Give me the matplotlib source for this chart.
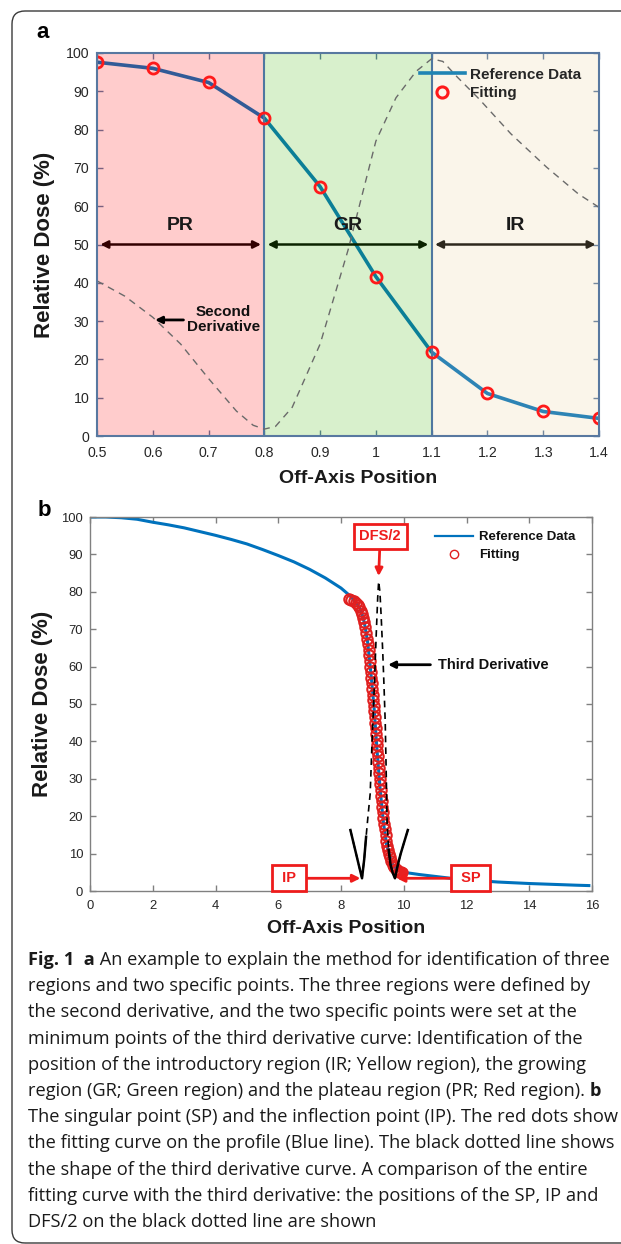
import matplotlib
matplotlib.use('Agg')
import matplotlib.pyplot as plt
from matplotlib.lines import Line2D
from matplotlib.patches import FancyBboxPatch
from matplotlib.transforms import IdentityTransform

plt.rcParams['font.family'] = ['Liberation Sans', 'DejaVu Sans']

# ---- panel a data ----
off_axis_a = [0.5, 0.6, 0.7, 0.8, 0.9, 1.0, 1.1, 1.2, 1.3, 1.4]
dose_a = [97.6, 96.0, 92.3, 83.0, 65.1, 41.6, 21.9, 11.1, 6.4, 4.6]
second_x = [0.5, 0.55, 0.6, 0.65, 0.7, 0.75, 0.78, 0.8, 0.82, 0.85, 0.9, 0.95,
            1.0, 1.036, 1.072, 1.1, 1.12, 1.146, 1.185, 1.242, 1.306, 1.363, 1.4]
second_y = [40.5, 36.5, 31.0, 24.0, 15.0, 6.5, 2.8, 1.8, 2.5, 7.5, 24.0, 48.5,
            77.0, 88.3, 95.2, 98.5, 97.8, 93.7, 88.0, 78.9, 70.2, 63.2, 59.7]
region_edges = [0.5, 0.8, 1.1, 1.4]
region_names = ['PR', 'GR', 'IR']
region_colors = ['#ff0000', '#3cb400', '#e6cd96']

# ---- panel b data ----
ref_x = [0, 0.5, 1.0, 1.5, 2.0, 2.5, 3.0, 3.5, 4.0, 4.5, 5.0, 5.5, 6.0, 6.5, 7.0,
         7.5, 8.0, 8.25, 8.5, 8.65, 8.75, 8.85, 8.95, 9.05, 9.15, 9.25, 9.35,
         9.45, 9.55, 9.65, 9.8, 10.0, 10.5, 11.0, 11.5, 12.0, 12.5, 13.0, 13.5,
         14.0, 14.5, 15.0, 15.5, 15.9]
ref_y = [100, 100, 99.8, 99.4, 98.6, 97.9, 97.1, 96.1, 95.1, 94.0, 92.8, 91.3,
         89.7, 88.0, 86.0, 83.7, 81.0, 79.2, 77.0, 74.8, 71.5, 66.5, 58.5, 49.5,
         37.5, 27.0, 18.5, 12.5, 9.5, 7.0, 5.6, 5.0, 4.4, 3.9, 3.4, 3.0, 2.7, 2.4,
         2.2, 2.0, 1.85, 1.7, 1.55, 1.45]
fit_x = [8.25, 8.32, 8.40, 8.48, 8.53, 8.58, 8.64, 8.68, 8.71, 8.74, 8.78, 8.81,
         8.84, 8.86, 8.88, 8.90, 8.92, 8.935, 8.95, 8.97, 8.985, 9.00, 9.015, 9.03,
         9.045, 9.06, 9.075, 9.09, 9.105, 9.12, 9.133, 9.146, 9.16, 9.173, 9.186,
         9.20, 9.215, 9.23, 9.245, 9.26, 9.276, 9.293, 9.31, 9.33, 9.35, 9.37,
         9.393, 9.42, 9.45, 9.48, 9.505, 9.53, 9.565, 9.60, 9.65, 9.70, 9.75,
         9.79, 9.85, 9.92]
fit_y = [78.0, 77.8, 77.5, 77.0, 76.5, 76.0, 75.0, 74.0, 73.0, 72.0, 70.5, 69.0,
         67.5, 66.0, 64.5, 63.0, 61.5, 60.0, 58.5, 57.0, 55.5, 54.0, 52.5, 51.0,
         49.5, 48.0, 46.5, 45.0, 43.5, 42.0, 40.5, 39.0, 37.5, 36.0, 34.5, 33.0,
         31.5, 30.0, 28.5, 27.0, 25.5, 24.0, 22.5, 21.0, 19.5, 18.0, 16.5, 15.0,
         13.5, 12.0, 11.0, 10.0, 9.0, 8.0, 7.0, 6.3, 5.8, 5.5, 5.2, 5.0]
third_x = [8.30, 8.40, 8.50, 8.60, 8.67, 8.74, 8.80, 8.86, 8.93, 8.99, 9.05, 9.12,
           9.17, 9.20, 9.24, 9.28, 9.33, 9.37, 9.41, 9.44, 9.47, 9.52, 9.58, 9.65,
           9.72, 9.80, 9.90, 10.00, 10.13]
third_y = [16.3, 12.8, 9.3, 5.8, 3.4, 8.5, 14.5, 20.0, 26.0, 40.0, 52.0, 68.0,
           78.5, 82.8, 80.0, 73.5, 64.0, 55.0, 45.0, 32.0, 18.0, 11.0, 7.0, 4.8,
           3.4, 6.6, 9.9, 12.7, 16.3]
sp_x, sp_y = 9.97, 5.2

caption_first = ('Fig. 1  a', ' An example to explain the method for identification of three')
caption = [
    "regions and two specific points. The three regions were defined by",
    "the second derivative, and the two specific points were set at the",
    "minimum points of the third derivative curve: Identification of the",
    "position of the introductory region (IR; Yellow region), the growing",
    "region (GR; Green region) and the plateau region (PR; Red region). ",
    "The singular point (SP) and the inflection point (IP). The red dots show",
    "the fitting curve on the profile (Blue line). The black dotted line shows",
    "the shape of the third derivative curve. A comparison of the entire",
    "fitting curve with the third derivative: the positions of the SP, IP and",
    "DFS/2 on the black dotted line are shown",
]

W, H = 621, 1244
fig = plt.figure(figsize=(W / 100, H / 100), dpi=100)


def px_axes(l, t, r, b):
    return fig.add_axes([l / W, 1 - b / H, (r - l) / W, (b - t) / H])


TXT = '#262626'

# ================= panel a =================
ax = px_axes(97, 53, 599, 436)
ax.plot(off_axis_a, dose_a, color='#0072BD', lw=2.6, zorder=2)
for i, name in enumerate(region_names):
    x0, x1 = region_edges[i], region_edges[i + 1]
    ax.annotate('', xy=(x1 - 0.006, 50), xytext=(x0 + 0.006, 50), zorder=2.5,
                arrowprops=dict(arrowstyle='<|-|>', color='black', lw=1.8,
                                mutation_scale=11, shrinkA=0, shrinkB=0))
    ax.axvspan(x0, x1, color=region_colors[i], alpha=0.2, lw=0, zorder=3)
    ax.text((x0 + x1) / 2, 55, name, ha='center', va='center', fontsize=14,
            fontweight='bold', color='#1a1a1a', zorder=6)
for xe in region_edges[1:-1]:
    ax.axvline(xe, color='#4f77a0', lw=1.5, zorder=4)
ax.plot(second_x, second_y, ls=(0, (5, 4)), color='#6a6a6a', lw=1, zorder=4)
ax.plot(off_axis_a, dose_a, 'o', mfc='none', mec='#ff1a1a', ms=8, mew=2,
        zorder=5)
ax.text(0.727, 30.4, 'Second\nDerivative', ha='center', va='center',
        fontsize=11, fontweight='bold', linespacing=1.1, color='#111', zorder=6)
ax.annotate('', xy=(0.604, 30.3), xytext=(0.655, 30.3), zorder=6,
            arrowprops=dict(arrowstyle='-|>', color='black', lw=2,
                            mutation_scale=10, shrinkA=0, shrinkB=0))
ax.set_xlim(0.5, 1.4)
ax.set_ylim(0, 100)
ax.set_xticks(off_axis_a)
ax.set_xticklabels(['0.5', '0.6', '0.7', '0.8', '0.9', '1', '1.1', '1.2',
                    '1.3', '1.4'])
ax.set_yticks(range(0, 101, 10))
for s in ax.spines.values():
    s.set_color('#5878a0')
    s.set_linewidth(1.5)
    s.set_zorder(7)
ax.tick_params(direction='in', top=True, right=True, length=4, width=1,
               color='#5878a0', labelcolor=TXT, labelsize=10.2)
ax.tick_params(axis='x', pad=7)
ax.tick_params(axis='y', pad=5.5)
ax.set_xlabel('Off-Axis Position', fontsize=14, fontweight='bold', color='#1a1a1a')
ax.set_ylabel('Relative Dose (%)', fontsize=16, fontweight='bold', color='#1a1a1a')
ax.xaxis.set_label_coords(0.52, -0.089)
ax.yaxis.set_label_coords(-0.0837, 0.5)
h_ref = Line2D([], [], color='#1f84b4', lw=2.6)
h_fit = Line2D([], [], ls='none', marker='o', mfc='none', mec='#ff1a1a', ms=8,
               mew=2.2)
leg = ax.legend([h_ref, h_fit], ['Reference Data', 'Fitting'], frameon=False,
                loc='upper left', bbox_to_anchor=(0.644, 0.962), borderpad=0,
                borderaxespad=0, handlelength=2.9, handletextpad=0.37,
                labelspacing=0.3, prop=dict(size=11, weight='bold'))
for t in leg.get_texts():
    t.set_color(TXT)
leg.set_zorder(8)

# ================= panel b =================
bx = px_axes(90, 517, 592, 891)
bx.plot(ref_x, ref_y, color='#0072BD', lw=2.2, zorder=2)
bx.plot(fit_x, fit_y, 'o', mfc='none', mec='#e02020', ms=7.5, mew=1.5, zorder=3)
bx.plot([sp_x], [sp_y], 'o', color='#e82020', ms=6.5, zorder=3)
bx.plot(third_x, third_y, ls=(0, (4, 3)), color='black', lw=1.2, zorder=4)
bx.plot(third_x[:7], third_y[:7], color='black', lw=1.8, zorder=4)
bx.plot(third_x[21:], third_y[21:], color='black', lw=1.8, zorder=4)

RED = '#ee1c1c'
box = dict(boxstyle='square,pad=0.4', fc='white', ec=RED, lw=2)
arr = dict(arrowstyle='-|>', color=RED, lw=2, mutation_scale=11, shrinkA=0,
           shrinkB=0)
bx.annotate('DFS/2', xy=(9.2, 84.2), xytext=(9.25, 94.8), ha='center',
            va='center', fontsize=10.5, fontweight='bold', color=RED, bbox=box,
            arrowprops=arr, zorder=6)
bx.annotate(' IP ', xy=(8.62, 3.4), xytext=(6.35, 3.4), ha='center',
            va='center', fontsize=10.5, fontweight='bold', color=RED, bbox=box,
            arrowprops=arr, zorder=6)
bx.annotate(' SP ', xy=(9.78, 3.4), xytext=(12.12, 3.4), ha='center',
            va='center', fontsize=10.5, fontweight='bold', color=RED, bbox=box,
            arrowprops=arr, zorder=6)
bx.text(11.08, 60.5, 'Third Derivative', ha='left', va='center', fontsize=10.5,
        fontweight='bold', color='#111', zorder=6)
bx.annotate('', xy=(9.5, 60.5), xytext=(10.85, 60.5), zorder=6,
            arrowprops=dict(arrowstyle='-|>', color='black', lw=2,
                            mutation_scale=10, shrinkA=0, shrinkB=0))
bx.set_xlim(0, 16)
bx.set_ylim(0, 100)
bx.set_xticks(range(0, 17, 2))
bx.set_yticks(range(0, 101, 10))
for s in bx.spines.values():
    s.set_color('#808080')
    s.set_linewidth(1)
bx.tick_params(direction='in', top=True, right=True, length=4, width=1,
               color='#808080', labelcolor=TXT, labelsize=9.4)
bx.tick_params(axis='x', pad=6.5)
bx.tick_params(axis='y', pad=5)
bx.set_xlabel('Off-Axis Position', fontsize=14, fontweight='bold', color='#1a1a1a')
bx.set_ylabel('Relative Dose (%)', fontsize=16, fontweight='bold', color='#1a1a1a')
bx.xaxis.set_label_coords(0.51, -0.0775)
bx.yaxis.set_label_coords(-0.0737, 0.5)
h_ref_b = Line2D([], [], color='#0072BD', lw=1.6)
h_fit_b = Line2D([], [], ls='none', marker='o', mfc='none', mec='#e02020',
                 ms=6, mew=1)
leg_b = bx.legend([h_ref_b, h_fit_b], ['Reference Data', 'Fitting'],
                  frameon=False, loc='upper left',
                  bbox_to_anchor=(0.6875, 0.962), borderpad=0, borderaxespad=0,
                  handlelength=2.85, handletextpad=0.48, labelspacing=0.42,
                  prop=dict(size=9.5, weight='bold'))
for t in leg_b.get_texts():
    t.set_color('#111')

# panel letters
fig.text(43 / W, 1 - 33 / H, 'a', ha='center', va='center', fontsize=16,
         fontweight='bold')
fig.text(44 / W, 1 - 510 / H, 'b', ha='center', va='center', fontsize=16,
         fontweight='bold')

# ================= caption =================
cap_font = ['Open Sans', 'DejaVu Sans']
renderer = fig.canvas.get_renderer()


def text_w(s, weight='normal'):
    p = fig.text(0, 0, s, family=cap_font, fontsize=12, fontweight=weight)
    w = p.get_window_extent(renderer).width
    p.remove()
    return w


widths = [text_w(s) for s in caption]
widths.append(text_w(caption_first[0], 'bold') + text_w(caption_first[1]))
cap_size = 12 * 588 / max(widths)

x0 = 28 / W
line_h = 26.2
y_first = 960
t0 = fig.text(x0, 1 - y_first / H, caption_first[0], family=cap_font,
              fontsize=cap_size, fontweight='bold', va='center', color='#1a1a1a')
ax.annotate(caption_first[1], xy=(1, 0), xycoords=t0, va='bottom', ha='left',
            family=cap_font, fontsize=cap_size, color='#1a1a1a',
            annotation_clip=False)
for i, line in enumerate(caption):
    t = fig.text(x0, 1 - (y_first + line_h * (i + 1)) / H, line,
                 family=cap_font, fontsize=cap_size, va='center',
                 color='#1a1a1a')
    if i == 4:
        ax.annotate('b', xy=(1, 0), xycoords=t, va='bottom', ha='left',
                    family=cap_font, fontsize=cap_size, fontweight='bold',
                    color='#1a1a1a', annotation_clip=False)

# rounded frame (right and bottom run off the picture)
frame = FancyBboxPatch((12, 1), 660, 1232, boxstyle='round,pad=0,rounding_size=13',
                       fc='none', ec='#3a3a3a', lw=1,
                       transform=IdentityTransform())
fig.patches.append(frame)

fig.savefig('out.png', dpi=100)
